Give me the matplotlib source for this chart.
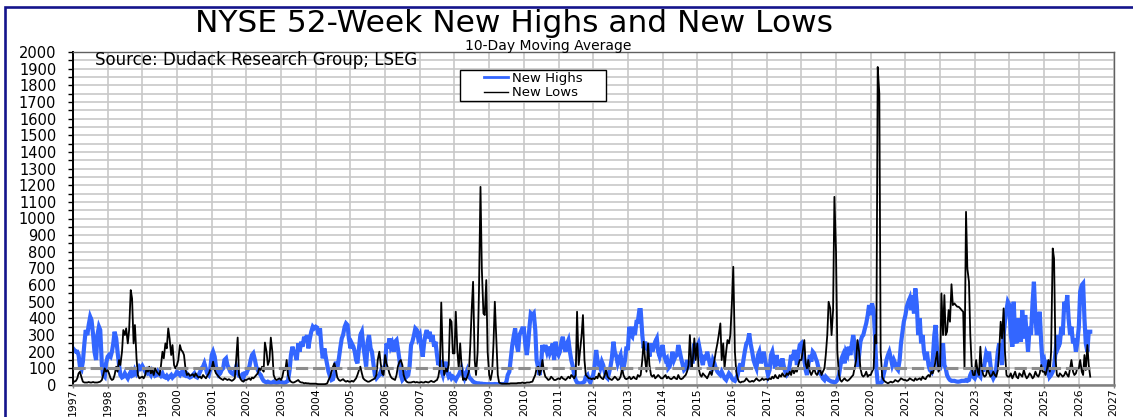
import numpy as np
import pandas as pd
import matplotlib
matplotlib.use("Agg")
import matplotlib.pyplot as plt
import matplotlib.dates as mdates
from matplotlib.patches import Rectangle
from matplotlib.ticker import MultipleLocator

# 10-day moving average, sampled twice a month (1st and 15th), Jan 1997 - Apr 2026
new_highs = [
    220, 210, 200, 200, 180, 110, 95, 140, 250, 330, 300, 360, 410, 390, 300, 200, 150, 300, 350, 330, 120, 60, 50, 130,  # 1997
    170, 180, 170, 200, 250, 320, 280, 200, 120, 60, 45, 50, 70, 55, 40, 60, 80, 55, 60, 90, 70, 90, 110, 100,  # 1998
    115, 100, 80, 90, 70, 75, 60, 85, 70, 55, 60, 80, 65, 55, 70, 50, 45, 55, 40, 50, 60, 45, 55, 60,  # 1999
    80, 70, 60, 75, 85, 60, 55, 65, 50, 45, 50, 60, 70, 50, 45, 60, 80, 100, 110, 130, 95, 70, 60, 90,  # 2000
    180, 200, 170, 110, 80, 60, 70, 90, 100, 150, 160, 120, 100, 80, 70, 65, 85, 110, 70, 55, 50, 60, 45, 70,  # 2001
    70, 90, 110, 150, 180, 190, 150, 110, 90, 70, 60, 40, 25, 20, 15, 20, 15, 12, 15, 20, 15, 12, 15, 20,  # 2002
    20, 15, 12, 15, 20, 25, 90, 180, 230, 200, 180, 150, 250, 200, 260, 230, 290, 260, 300, 220, 280, 320, 350, 340,  # 2003
    350, 345, 300, 340, 230, 160, 220, 170, 120, 80, 50, 30, 35, 70, 140, 100, 160, 220, 280, 300, 350, 370, 360, 280,  # 2004
    220, 250, 230, 200, 150, 130, 220, 300, 320, 240, 170, 110, 260, 300, 220, 200, 120, 60, 40, 50, 60, 80, 70, 100,  # 2005
    120, 250, 220, 280, 230, 250, 200, 260, 270, 220, 150, 60, 30, 40, 70, 50, 60, 110, 240, 260, 300, 340, 330, 280,  # 2006
    300, 230, 170, 250, 300, 330, 280, 320, 260, 300, 230, 260, 180, 120, 150, 90, 60, 100, 140, 80, 50, 60, 40, 50,  # 2007
    40, 30, 50, 60, 80, 100, 60, 40, 70, 90, 50, 40, 30, 20, 15, 12, 10, 10, 8, 8, 6, 6, 5, 5,  # 2008
    5, 5, 5, 5, 6, 5, 5, 5, 5, 6, 5, 6, 20, 60, 80, 150, 240, 290, 340, 250, 200, 300, 320, 340,  # 2009
    340, 250, 180, 250, 350, 430, 420, 430, 330, 150, 100, 60, 120, 240, 200, 240, 200, 230, 190, 210, 250, 150, 260, 200,  # 2010
    180, 200, 260, 290, 230, 200, 250, 270, 200, 150, 110, 60, 30, 15, 10, 10, 10, 15, 20, 50, 60, 30, 15, 40,  # 2011
    60, 110, 210, 150, 120, 100, 140, 120, 80, 50, 40, 70, 110, 160, 260, 200, 170, 130, 160, 180, 100, 100, 150, 220,  # 2012
    220, 350, 300, 290, 350, 300, 380, 380, 450, 450, 300, 220, 260, 220, 220, 170, 250, 200, 230, 260, 280, 200, 170, 200,  # 2013
    240, 180, 150, 160, 100, 110, 150, 200, 150, 170, 180, 240, 200, 160, 120, 90, 100, 150, 110, 120, 140, 140, 250, 230,  # 2014
    230, 250, 200, 150, 120, 180, 150, 200, 160, 120, 100, 150, 130, 100, 80, 70, 60, 80, 60, 40, 30, 50, 70, 60,  # 2015
    40, 30, 25, 40, 60, 100, 130, 80, 150, 200, 250, 260, 310, 250, 200, 150, 120, 100, 180, 200, 130, 160, 200, 150,  # 2016
    100, 60, 90, 180, 200, 150, 100, 180, 120, 150, 100, 160, 110, 80, 60, 70, 120, 180, 150, 200, 200, 120, 190, 240,  # 2017
    250, 200, 150, 90, 60, 120, 180, 140, 200, 190, 160, 140, 100, 70, 60, 40, 30, 50, 40, 30, 25, 20, 20, 15,  # 2018
    20, 30, 60, 110, 160, 180, 130, 200, 180, 230, 180, 240, 300, 250, 160, 110, 180, 260, 290, 300, 340, 370, 420, 480,  # 2019
    420, 490, 450, 300, 100, 10, 5, 10, 20, 60, 100, 150, 180, 200, 160, 120, 150, 130, 100, 90, 150, 250, 320, 380,  # 2020
    420, 470, 500, 520, 450, 540, 430, 580, 480, 300, 400, 250, 300, 200, 150, 200, 120, 90, 80, 150, 300, 360, 200, 100,  # 2021
    100, 150, 250, 120, 100, 60, 40, 30, 25, 25, 25, 22, 20, 20, 22, 25, 25, 25, 30, 25, 30, 60, 80, 50,  # 2022
    40, 60, 100, 60, 50, 120, 80, 130, 190, 170, 200, 120, 60, 40, 60, 100, 200, 250, 180, 120, 300, 380, 450, 500,  # 2023
    480, 300, 230, 500, 300, 250, 400, 300, 260, 450, 280, 420, 300, 200, 350, 300, 500, 620, 400, 300, 350, 440, 250, 130,  # 2024
    150, 100, 80, 150, 50, 60, 80, 110, 200, 300, 230, 250, 350, 300, 500, 440, 540, 400, 300, 350, 250, 280, 200, 250,  # 2025
    350, 560, 600, 610, 400, 250, 200, 320, 320,  # 2026
]

new_lows = [
    25, 20, 25, 40, 70, 80, 45, 20, 15, 15, 15, 18, 15, 15, 18, 15, 15, 15, 18, 20, 30, 60, 100, 80,  # 1997
    90, 70, 40, 30, 35, 60, 110, 80, 150, 120, 200, 330, 300, 340, 250, 330, 570, 520, 250, 360, 160, 60, 40, 45,  # 1998
    50, 40, 60, 100, 80, 110, 70, 90, 60, 100, 80, 70, 60, 110, 200, 160, 250, 220, 340, 280, 180, 240, 120, 100,  # 1999
    120, 150, 240, 210, 200, 180, 90, 60, 70, 55, 60, 65, 50, 70, 55, 45, 50, 40, 60, 50, 40, 55, 70, 90,  # 2000
    100, 140, 90, 70, 60, 50, 40, 35, 30, 40, 35, 30, 35, 30, 25, 30, 40, 150, 285, 60, 35, 25, 20, 30,  # 2001
    30, 35, 40, 30, 45, 40, 50, 60, 70, 100, 90, 110, 80, 255, 200, 120, 150, 285, 200, 60, 35, 30, 35, 40,  # 2002
    30, 50, 100, 90, 150, 60, 30, 20, 15, 15, 20, 25, 30, 20, 15, 15, 10, 12, 10, 10, 8, 8, 8, 8,  # 2003
    8, 6, 5, 5, 5, 5, 5, 6, 10, 30, 50, 80, 110, 130, 90, 45, 30, 25, 30, 35, 25, 20, 25, 20,  # 2004
    20, 25, 20, 30, 40, 60, 90, 110, 70, 40, 30, 25, 20, 20, 25, 30, 35, 40, 60, 150, 200, 130, 70, 60,  # 2005
    180, 130, 100, 70, 50, 40, 35, 30, 60, 110, 140, 150, 120, 60, 30, 20, 15, 15, 15, 18, 20, 15, 18, 15,  # 2006
    15, 18, 15, 15, 20, 18, 15, 20, 25, 20, 18, 25, 30, 50, 110, 495, 150, 60, 100, 80, 120, 395, 380, 190,  # 2007
    190, 440, 200, 100, 250, 120, 30, 40, 30, 50, 80, 230, 460, 620, 150, 60, 200, 560, 1190, 700, 430, 420, 630, 200,  # 2008
    60, 30, 80, 250, 500, 300, 60, 15, 10, 8, 8, 8, 8, 8, 8, 10, 10, 10, 10, 10, 12, 12, 12, 15,  # 2009
    12, 12, 15, 15, 15, 18, 20, 40, 60, 100, 110, 60, 90, 150, 80, 50, 40, 30, 35, 50, 40, 30, 30, 35,  # 2010
    40, 35, 50, 40, 35, 30, 40, 50, 40, 60, 50, 40, 60, 440, 120, 200, 300, 420, 150, 60, 50, 40, 40, 35,  # 2011
    40, 35, 50, 40, 70, 50, 40, 35, 60, 90, 50, 40, 35, 30, 40, 50, 40, 30, 35, 50, 100, 60, 40, 35,  # 2012
    40, 50, 35, 40, 50, 40, 35, 60, 50, 60, 150, 260, 150, 80, 250, 120, 60, 50, 60, 40, 50, 60, 50, 40,  # 2013
    40, 50, 60, 40, 50, 40, 35, 40, 50, 40, 35, 60, 40, 35, 40, 50, 60, 80, 120, 300, 100, 150, 280, 150,  # 2014
    250, 100, 60, 50, 70, 60, 50, 40, 60, 80, 60, 100, 150, 200, 250, 300, 370, 150, 250, 100, 200, 270, 250, 300,  # 2015
    500, 710, 200, 80, 40, 20, 15, 20, 20, 25, 40, 30, 20, 20, 25, 20, 30, 40, 30, 25, 30, 40, 30, 35,  # 2016
    35, 30, 40, 35, 50, 40, 60, 45, 40, 60, 50, 70, 55, 50, 70, 60, 80, 60, 100, 70, 90, 80, 120, 150,  # 2017
    150, 200, 270, 130, 100, 150, 80, 60, 80, 100, 70, 60, 80, 100, 60, 80, 100, 180, 300, 500, 460, 300, 450, 1130,  # 2018
    800, 200, 60, 30, 20, 30, 40, 30, 25, 30, 40, 50, 60, 100, 150, 270, 200, 100, 60, 50, 60, 80, 50, 60,  # 2019
    60, 80, 100, 300, 250, 1910, 1750, 200, 50, 30, 20, 15, 10, 15, 20, 15, 20, 30, 25, 20, 30, 40, 35, 30,  # 2020
    30, 25, 30, 40, 35, 30, 25, 40, 30, 35, 40, 30, 50, 40, 35, 50, 60, 50, 80, 70, 100, 150, 200, 80,  # 2021
    100, 550, 300, 540, 300, 320, 450, 380, 605, 480, 490, 480, 470, 470, 460, 450, 440, 100, 1040, 700, 620, 300, 100, 60,  # 2022
    60, 150, 80, 60, 230, 100, 60, 50, 60, 100, 70, 50, 60, 80, 60, 50, 90, 200, 380, 280, 460, 200, 60, 50,  # 2023
    50, 70, 40, 60, 80, 50, 40, 70, 60, 50, 90, 60, 40, 50, 70, 60, 40, 50, 80, 60, 50, 70, 120, 80,  # 2024
    80, 60, 100, 150, 80, 200, 820, 760, 150, 60, 50, 70, 60, 50, 60, 80, 60, 50, 100, 150, 80, 60, 70, 100,  # 2025
    100, 150, 80, 60, 180, 90, 240, 120, 50,  # 2026
]

ref_level = 100
series_labels = ["New Highs", "New Lows"]

dates = pd.date_range("1997-01-01", periods=len(new_highs), freq="SMS")

W, H = 1133, 417
fig = plt.figure(figsize=(W / 100, H / 100), dpi=100)
fig.patch.set_facecolor("white")


def fx(px):
    return px / W


def fy(py):
    return 1 - py / H


ax = fig.add_axes([fx(73), fy(385), fx(1113.5) - fx(73), fy(52) - fy(385)])

blue, = ax.plot(dates, new_highs, color="#3366ff", lw=3.0, zorder=2,
                solid_joinstyle="miter", label=series_labels[0])
black, = ax.plot(dates, new_lows, color="black", lw=1.3, zorder=3,
                 label=series_labels[1])
ax.hlines(ref_level, dates[0], dates[-1], colors="#8c8c8c", lw=2.2,
          linestyles=(0, (4, 1.6)), zorder=4)

ax.set_xlim(pd.Timestamp("1997-01-01"), pd.Timestamp("2027-01-01"))
ax.set_ylim(0, 2000)
ax.xaxis.set_major_locator(mdates.YearLocator(1))
ax.xaxis.set_major_formatter(mdates.DateFormatter("%Y"))
ax.yaxis.set_major_locator(MultipleLocator(100))
ax.yaxis.set_minor_locator(MultipleLocator(50))

ax.grid(True, which="major", color="#c8c8c8", lw=1.2, zorder=0)
ax.grid(True, which="minor", axis="y", color="#c8c8c8", lw=1.2, zorder=0)
ax.set_axisbelow(True)

ax.tick_params(axis="y", which="both", direction="out", length=3.6,
               width=1, pad=8.5, labelsize=10.5, colors="black")
ax.tick_params(axis="x", which="major", direction="out", length=2,
               width=1, pad=0.5, labelsize=7.8, labelrotation=90,
               color="#808080", labelcolor="black")

ax.spines["left"].set_color("black")
ax.spines["left"].set_linewidth(1.4)
ax.spines["bottom"].set_color("#808080")
ax.spines["bottom"].set_linewidth(1.8)
ax.spines["top"].set_color("#606060")
ax.spines["top"].set_linewidth(1.0)
ax.spines["right"].set_color("#606060")
ax.spines["right"].set_linewidth(1.0)

# titles and source note
fig.text(fx(514), fy(32.5), "NYSE 52-Week New Highs and New Lows",
         ha="center", va="baseline", fontsize=22.5, color="black")
fig.text(fx(548), fy(50), "10-Day Moving Average",
         ha="center", va="baseline", fontsize=10, color="black")
ax.text(fx(95), fy(65), "Source: Dudack Research Group; LSEG",
        transform=fig.transFigure, ha="left", va="baseline",
        fontsize=12, color="black", zorder=5)

# legend box
box = Rectangle((fx(460), fy(101)), fx(606) - fx(460), fy(70) - fy(101),
                transform=fig.transFigure, facecolor="white",
                edgecolor="black", lw=1.0, zorder=5)
fig.add_artist(box)
leg = fig.legend(handles=[blue, black], loc="center",
                 bbox_to_anchor=(fx(533.5), fy(85.5)),
                 bbox_transform=fig.transFigure, frameon=False,
                 fontsize=9.5, handlelength=1.8, handletextpad=0.3,
                 labelspacing=0.1, borderpad=0.1)
leg.set_zorder(6)
leg.get_lines()[0].set_linewidth(2.0)
leg.get_lines()[1].set_linewidth(1.0)

# outer navy frame
frame = Rectangle((fx(5), -0.1), 1.2, fy(6.5) + 0.1, transform=fig.transFigure,
                  facecolor="none", edgecolor="#14148c", lw=1.9, zorder=7,
                  clip_on=False)
fig.add_artist(frame)

fig.savefig("out.png", dpi=100, facecolor="white")
